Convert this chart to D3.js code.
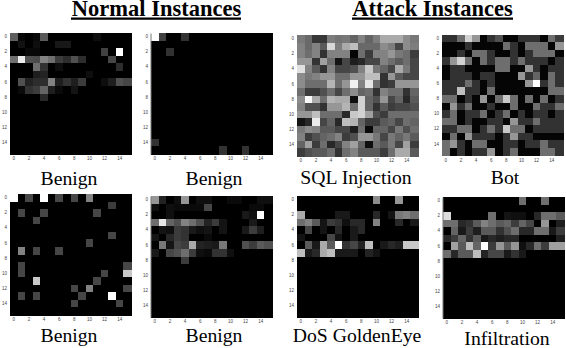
<!DOCTYPE html>
<html lang="en">
<head>
    <meta charset="UTF-8">
    <title>Normal and Attack Instances</title>
    <script src="https://cdnjs.cloudflare.com/ajax/libs/d3/7.8.5/d3.min.js"></script>
    <style>
        body { margin: 0; background: #fff; overflow: hidden; }
        text { font-family: "Liberation Serif", serif; fill: #000; }
        .tick text { font-family: "Liberation Sans", sans-serif; font-size: 4.5px; fill: #444; }
        .tick line { display: none; }
        .row rect { shape-rendering: crispEdges; }
    </style>
</head>
<body>
    <div id="chart"></div>
    <script>
        // grey level (0-255) of each cell
        const benignA = [
            [95,8,0,8,90,0,0,0,0,0,0,14,0,0,0,0],
            [0,18,0,14,0,0,24,24,0,0,0,0,0,0,0,0],
            [0,0,8,8,0,0,0,0,0,0,0,0,65,0,255,0],
            [110,235,80,75,130,110,60,45,80,45,0,0,0,70,0,0],
            [0,0,0,110,50,0,14,0,0,0,0,0,0,0,45,0],
            [0,0,0,30,35,0,0,0,0,0,14,0,0,0,0,0],
            [0,80,35,45,45,130,30,50,30,60,0,0,14,30,80,70],
            [0,10,50,60,100,30,10,0,20,0,0,0,0,0,0,0],
            [0,0,0,0,40,0,0,0,0,0,0,0,0,0,0,0],
            [0,0,0,0,0,0,0,0,0,0,0,0,0,0,0,0],
            [0,0,0,0,0,0,0,0,0,0,0,0,0,0,0,0],
            [0,0,0,0,0,0,0,0,0,0,0,0,0,0,0,0],
            [0,0,0,0,0,0,0,0,0,0,0,0,0,0,0,0],
            [0,0,0,0,0,0,0,0,0,0,0,0,0,0,0,0],
            [0,0,0,0,0,0,0,0,0,0,0,0,0,0,0,0],
            [0,0,0,0,0,0,0,0,0,0,0,0,0,0,0,0]
        ];
        const benignB = [
            [255,65,0,0,50,0,0,0,0,0,0,0,0,0,0,0],
            [0,0,0,0,0,0,0,0,0,0,0,0,0,0,0,0],
            [0,0,50,0,0,0,0,0,0,0,0,0,0,0,0,0],
            [0,0,0,0,0,0,0,0,0,0,0,0,0,0,0,0],
            [0,0,0,0,0,0,0,0,0,0,0,0,0,0,0,0],
            [0,0,0,0,0,0,0,0,0,0,0,0,0,0,0,0],
            [0,0,0,0,0,0,0,0,0,0,0,0,0,0,0,0],
            [0,0,0,0,0,0,0,0,0,0,0,0,0,0,0,0],
            [0,0,0,0,0,0,0,0,0,0,0,0,0,0,0,0],
            [0,0,0,0,0,0,0,0,0,0,0,0,0,0,0,0],
            [0,0,0,0,0,0,0,0,0,0,0,0,0,0,0,0],
            [0,0,0,0,0,0,0,0,0,0,0,0,0,0,0,0],
            [0,0,0,0,0,0,0,0,0,0,0,0,0,0,0,0],
            [0,0,0,0,0,0,0,0,0,0,0,0,0,0,0,0],
            [50,0,0,0,0,0,0,0,0,0,0,0,0,0,0,0],
            [0,0,0,0,0,0,0,0,0,50,0,0,50,0,0,0]
        ];
        const sqlInjection = [
            [120,105,55,55,125,115,120,100,130,100,125,170,170,170,140,120],
            [130,105,130,90,215,125,170,190,105,105,105,140,125,70,140,125],
            [130,110,130,50,130,130,130,5,110,60,130,130,150,120,110,60],
            [150,150,50,160,110,20,70,30,40,70,70,130,110,90,110,70],
            [225,130,90,50,130,70,70,80,130,200,120,100,70,170,120,70],
            [140,120,130,150,150,110,110,150,150,190,190,50,150,90,70,70],
            [140,110,110,110,180,110,150,240,130,230,110,50,60,150,150,150],
            [110,60,60,80,110,70,110,140,100,110,50,130,110,110,50,100],
            [140,250,170,110,180,170,170,15,210,100,80,150,70,100,40,90],
            [130,80,80,50,150,150,180,110,210,100,50,90,60,70,70,80],
            [150,150,190,110,110,110,40,200,210,160,80,60,110,110,110,110],
            [20,40,235,70,100,40,190,180,100,60,60,90,100,70,110,100],
            [120,140,130,90,90,70,70,30,110,10,100,100,70,120,80,110],
            [130,60,80,100,110,130,60,80,150,150,120,70,120,100,120,90],
            [100,160,60,110,40,70,130,160,100,15,110,90,120,70,160,60],
            [60,80,90,90,110,50,110,130,90,90,90,60,110,170,170,90]
        ];
        const bot = [
            [50,50,110,210,150,5,50,80,5,5,50,50,50,5,110,60],
            [5,5,5,50,5,5,5,5,110,50,5,110,110,110,5,150],
            [5,5,50,5,110,110,50,5,5,50,5,50,110,110,110,5],
            [50,150,210,110,5,110,50,110,110,50,110,50,50,50,5,50],
            [5,50,50,5,5,5,5,110,110,5,5,150,50,5,50,50],
            [5,50,50,50,5,50,50,5,5,5,150,50,100,5,110,50],
            [50,50,50,110,50,5,50,5,5,5,5,150,255,50,110,50],
            [50,50,190,50,50,5,110,5,5,5,5,5,5,5,110,110],
            [110,110,5,50,5,150,5,110,200,110,5,110,5,110,5,50],
            [5,150,50,110,5,5,50,5,5,110,5,5,110,50,50,110],
            [50,110,5,50,50,110,5,50,110,5,50,5,50,50,5,50],
            [110,110,5,50,5,5,50,50,5,150,50,50,110,50,50,50],
            [50,50,110,110,5,50,110,50,200,110,110,5,50,50,50,50],
            [5,110,5,150,50,50,50,5,50,150,50,50,5,5,5,5],
            [110,150,50,5,110,110,5,5,50,50,5,50,50,110,50,50],
            [110,5,50,5,50,50,150,5,50,110,5,5,5,110,110,50]
        ];
        const benignC = [
            [255,0,70,0,255,0,70,0,70,0,130,0,0,0,0,0],
            [0,0,0,0,0,0,0,0,0,0,0,0,0,60,0,0],
            [0,70,0,0,70,0,0,0,0,0,0,70,0,0,0,0],
            [0,0,0,70,0,0,0,0,0,0,0,0,0,0,0,0],
            [0,0,0,0,0,0,0,0,0,0,0,0,0,0,0,0],
            [0,0,0,0,0,0,0,0,0,0,0,0,0,70,0,0],
            [0,0,0,0,0,0,0,0,0,0,70,0,0,0,0,0],
            [0,130,0,70,0,0,70,0,0,0,0,0,0,0,0,0],
            [0,0,0,0,0,0,0,0,0,0,0,0,0,0,0,0],
            [0,70,0,0,0,0,0,0,0,0,0,0,0,0,0,70],
            [0,70,0,0,0,0,0,0,0,0,0,0,70,0,0,200],
            [0,0,0,200,0,0,0,0,0,0,0,70,0,0,0,0],
            [0,0,0,0,0,0,0,0,70,0,130,0,0,0,0,70],
            [0,70,0,70,0,0,0,0,0,70,0,0,0,255,0,0],
            [0,0,0,0,0,0,0,0,70,0,0,0,0,0,70,0],
            [0,0,0,0,0,0,0,0,0,0,0,0,0,0,0,0]
        ];
        const benignD = [
            [150,35,0,15,150,0,15,15,0,0,10,10,0,0,15,15],
            [15,0,15,10,10,10,10,70,0,0,0,0,0,10,10,0],
            [0,0,15,0,0,0,0,0,0,0,0,0,25,15,255,0],
            [110,230,100,80,130,110,80,35,60,20,0,0,0,25,0,0],
            [0,20,15,60,50,25,15,20,0,20,0,0,25,60,30,0],
            [20,0,40,60,50,0,0,10,0,0,0,0,0,0,0,0],
            [0,120,20,70,60,170,35,30,25,120,0,0,80,60,90,80],
            [25,0,70,80,110,60,15,10,50,50,15,0,0,0,0,0],
            [0,0,0,0,60,0,0,0,0,0,0,0,0,0,0,0],
            [0,0,0,0,0,0,0,0,0,0,0,0,0,0,0,0],
            [0,0,0,0,0,0,0,0,0,0,0,0,0,0,0,0],
            [0,0,0,0,0,0,0,0,0,0,0,0,0,0,0,0],
            [0,0,0,0,0,0,0,0,0,0,0,0,0,0,0,0],
            [0,0,0,0,0,0,0,0,0,0,0,0,0,0,0,0],
            [0,0,0,0,0,0,0,0,0,0,0,0,0,0,0,0],
            [0,0,0,0,0,0,0,0,0,0,0,0,0,0,0,0]
        ];
        const dosGoldenEye = [
            [0,0,0,0,0,0,0,0,0,0,140,0,0,150,0,0],
            [0,0,0,0,0,0,0,0,0,0,0,0,0,0,0,0],
            [170,0,0,0,0,25,25,0,0,0,40,0,20,120,130,110],
            [110,130,90,20,60,50,15,40,40,0,130,0,0,40,0,25],
            [0,70,0,20,0,40,0,25,40,0,0,0,0,0,0,0],
            [20,0,0,0,70,20,0,25,0,0,0,0,0,0,0,0],
            [0,90,25,170,90,255,50,70,35,190,0,25,40,30,200,200],
            [190,25,40,170,190,25,25,25,0,35,20,0,0,0,0,0],
            [0,0,0,0,0,0,0,0,0,0,0,0,0,0,0,0],
            [0,0,0,0,0,0,0,0,0,0,0,0,0,0,0,0],
            [0,0,0,0,0,0,0,0,0,0,0,0,0,0,0,0],
            [0,0,0,0,0,0,0,0,0,0,0,0,0,0,0,0],
            [0,0,0,0,0,0,0,0,0,0,0,0,0,0,0,0],
            [0,0,0,0,0,0,0,0,0,0,0,0,0,0,0,0],
            [0,0,0,0,0,0,0,0,0,0,0,0,0,0,0,0],
            [0,0,0,0,0,0,0,0,0,0,0,0,0,0,0,0]
        ];
        const infiltration = [
            [0,0,0,0,0,0,0,0,0,0,110,0,0,110,0,0],
            [0,0,0,0,0,0,0,0,0,0,0,0,0,0,0,0],
            [220,0,0,0,0,0,110,0,20,15,15,0,40,110,110,90],
            [110,110,40,50,90,130,110,90,100,60,100,70,0,150,0,30],
            [0,100,25,60,30,90,90,50,80,110,40,40,110,110,25,60],
            [40,60,100,50,90,25,40,30,40,40,0,0,0,0,0,30],
            [0,160,90,190,100,255,60,150,90,150,15,40,110,60,160,160],
            [110,40,90,90,190,35,70,70,25,50,25,0,0,0,0,0],
            [0,0,0,0,0,0,0,0,0,0,0,0,0,0,0,0],
            [0,0,0,0,0,0,0,0,0,0,0,0,0,0,0,0],
            [0,0,0,0,0,0,0,0,0,0,0,0,0,0,0,0],
            [0,0,0,0,0,0,0,0,0,0,0,0,0,0,0,0],
            [0,0,0,0,0,0,0,0,0,0,0,0,0,0,0,0],
            [0,0,0,0,0,0,0,0,0,0,0,0,0,0,0,0],
            [0,0,0,0,0,0,0,0,0,0,0,0,0,0,0,0],
            [0,0,0,0,0,0,0,0,0,0,0,0,0,0,0,0]
        ];

        const panelData = [benignA, benignB, sqlInjection, bot, benignC, benignD, dosGoldenEye, infiltration];
        const panelNames = ["Benign", "Benign", "SQL Injection", "Bot", "Benign", "Benign", "DoS GoldenEye", "Infiltration"];
        const groupTitles = ["Normal Instances", "Attack Instances"];
        const tickLabels = [0, 2, 4, 6, 8, 10, 12, 14];

        // where each panel sits on the page
        const panelBoxes = [
            { x: 10, y: 33, capX: 69, capY: 185, edge: false },
            { x: 151, y: 33, capX: 214, capY: 185, edge: true },
            { x: 297, y: 35, capX: 356, capY: 184, edge: false },
            { x: 442, y: 34.5, capX: 505, capY: 184, edge: false },
            { x: 10, y: 194, capX: 69, capY: 342, edge: false },
            { x: 151, y: 196, capX: 214, capY: 342, edge: true },
            { x: 297, y: 196, capX: 357, capY: 342, edge: false },
            { x: 443, y: 197, capX: 507, capY: 345, edge: true }
        ];
        const titleBoxes = [
            { x: 156.5, x0: 71, x1: 241 },
            { x: 432.5, x0: 352, x1: 513 }
        ];
        const size = 121;

        const svg = d3.select("#chart").append("svg")
            .attr("width", 566)
            .attr("height", 348)
            .style("display", "block");

        const band = d3.scaleBand().domain(d3.range(16)).range([0, size]);
        const grey = d3.scaleLinear().domain([0, 255]).range(["#000", "#fff"]);

        const panels = svg.selectAll(".panel")
            .data(panelData)
            .enter().append("g")
            .attr("class", "panel")
            .attr("transform", (d, i) => `translate(${panelBoxes[i].x},${panelBoxes[i].y})`);

        panels.selectAll("g.row")
            .data(d => d)
            .enter().append("g")
            .attr("class", "row")
            .attr("transform", (d, r) => `translate(0,${band(r)})`)
            .selectAll("rect")
            .data(d => d)
            .enter().append("rect")
            .attr("x", (d, c) => band(c))
            .attr("width", band.bandwidth() + 0.5)
            .attr("height", band.bandwidth() + 0.5)
            .attr("fill", d => grey(d));

        // tick labels
        panels.each(function(d, i) {
            const g = d3.select(this);
            const xAxis = g.append("g")
                .attr("transform", `translate(0,${size + 1})`)
                .call(d3.axisBottom(band).tickValues(tickLabels).tickSize(0).tickPadding(2));
            const yAxis = g.append("g")
                .attr("transform", "translate(-1,0)")
                .call(d3.axisLeft(band).tickValues(tickLabels).tickSize(0).tickPadding(2));
            xAxis.select(".domain").remove();
            if (panelBoxes[i].edge) {
                yAxis.select(".domain").attr("stroke", "#777").attr("transform", "translate(0.5,0)");
            } else {
                yAxis.select(".domain").remove();
            }
        });

        // captions under each panel
        svg.selectAll(".caption")
            .data(panelNames)
            .enter().append("text")
            .attr("class", "caption")
            .attr("x", (d, i) => panelBoxes[i].capX)
            .attr("y", (d, i) => panelBoxes[i].capY)
            .attr("text-anchor", "middle")
            .attr("font-size", 19.7)
            .text(d => d);

        // group headings
        svg.selectAll(".title")
            .data(groupTitles)
            .enter().append("text")
            .attr("class", "title")
            .attr("x", (d, i) => titleBoxes[i].x)
            .attr("y", 16)
            .attr("text-anchor", "middle")
            .attr("font-size", 22.5)
            .attr("font-weight", "bold")
            .text(d => d);

        svg.selectAll(".rule")
            .data(titleBoxes)
            .enter().append("line")
            .attr("class", "rule")
            .attr("x1", d => d.x0)
            .attr("x2", d => d.x1)
            .attr("y1", 18.7)
            .attr("y2", 18.7)
            .attr("stroke", "#000")
            .attr("stroke-width", 2.2);
    </script>
</body>
</html>
